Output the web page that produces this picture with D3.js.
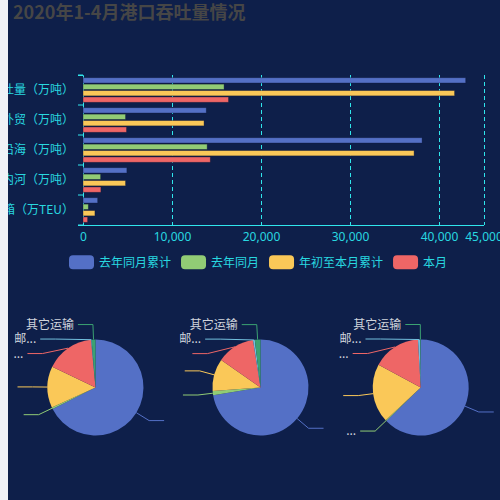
<!DOCTYPE html>
<html>
<head>
<meta charset="utf-8">
<script src="https://cdn.jsdelivr.net/npm/d3@7/dist/d3.min.js"></script>
<style>
  html, body { margin: 0; padding: 0; background: #f0f2f7; width: 500px; height: 500px; overflow: hidden; }
  svg { position: absolute; left: 8px; top: 0; background: #0e1f4a; overflow: hidden; }
  text { font-family: "Microsoft YaHei", "Noto Sans CJK SC", "Noto Sans", sans-serif; }
</style>
</head>
<body>
<script>
// ---------------- data ----------------
const titleText = "2020年1-4月港口吞吐量情况";
const categories = ["货物吞吐量（万吨）", "外贸（万吨）", "沿海（万吨）", "内河（万吨）", "集装箱（万TEU）"];
const seriesNames = ["去年同月累计", "去年同月", "年初至本月累计", "本月"];
const cumLastYear   = [43000, 13850, 38100, 4930, 1650];
const monthLastYear = [15850, 4780, 13950, 1980, 600];
const cumThisYear   = [41750, 13600, 37200, 4780, 1340];
const monthThisYear = [16350, 4890, 14300, 2010, 520];
const xTicks = [0, 10000, 20000, 30000, 40000, 45000];

const pieCategories = ["水路", "铁路", "公路", "管道", "邮政", "其它运输"];
const pie1Values = [67.6, 0.6, 13.9, 16.4, 0.2, 1.3];
const pie2Values = [72.4, 1.4, 10.9, 12.8, 0.6, 1.9];
const pie3Values = [62.7, 0.3, 19.9, 16.2, 0.7, 0.2];
const pie1Labels = ["", "", "", "...", "邮...", "其它运输"];
const pie2Labels = ["", "", "", "", "邮...", "其它运输"];
const pie3Labels = ["", "...", "", "...", "邮...", "其它运输"];

// ---------------- style ----------------
const barColors = ["#5470c6", "#91cc75", "#fac858", "#ee6666"];
const pieColors = ["#5470c6", "#91cc75", "#fac858", "#ee6666", "#73c0de", "#3ba272"];
const cyan = "#28d8e0";
const lineCyan = "#30e6ec";

const svg = d3.select("body").append("svg").attr("width", 492).attr("height", 500);
const root = svg.append("g").attr("transform", "translate(-8,0)");

// title
root.append("text").attr("x", 13).attr("y", 19)
  .attr("font-size", 18).attr("font-weight", "bold").attr("fill", "#464646")
  .text(titleText);

// ---------------- bar chart ----------------
const x = d3.scaleLinear().domain([0, 45000]).range([83, 483.5]);
const y = d3.scaleBand().domain(categories).range([75, 225]).padding(0);
const bw = y.bandwidth();
const ySub = d3.scaleBand().domain(seriesNames).range([bw * 0.09, bw * 0.91]).paddingInner(0.17);
const crisp = v => Math.round(v) + 0.5;

// grid lines
root.append("g").selectAll("line").data(xTicks.filter(d => d > 0)).join("line")
  .attr("x1", d => crisp(x(d))).attr("x2", d => crisp(x(d)))
  .attr("y1", 75).attr("y2", 225)
  .attr("stroke", lineCyan).attr("stroke-width", 1).attr("stroke-dasharray", "4,3");

// y axis
const yAxis = d3.axisLeft(y).tickSize(5).tickPadding(4);
const gy = root.append("g").attr("transform", "translate(83,0)").call(yAxis);
gy.select(".domain").attr("stroke", lineCyan);
gy.selectAll(".tick line").attr("stroke", lineCyan)
  .attr("transform", function(d){ return `translate(0,${-bw/2})`; });
gy.selectAll(".tick text").attr("fill", cyan).attr("font-size", 12)
  .attr("x", -9).attr("dy", "0.35em")
  .style("font-family", '"Microsoft YaHei", "Noto Sans CJK SC", sans-serif');
gy.append("line").attr("x1", -5).attr("x2", 0).attr("y1", 225).attr("y2", 225).attr("stroke", lineCyan);

// x axis
const xAxis = d3.axisBottom(x).tickValues(xTicks).tickSize(0).tickPadding(7).tickFormat(d3.format(","));
const gx = root.append("g").attr("transform", "translate(0,225)").call(xAxis);
gx.select(".domain").attr("stroke", lineCyan).attr("d", `M83,0.5H484`);
gx.selectAll(".tick text").attr("fill", cyan).attr("font-size", 12)
  .style("font-family", '"Microsoft YaHei", "Noto Sans", sans-serif');

// bars
const seriesData = [cumLastYear, monthLastYear, cumThisYear, monthThisYear];
seriesData.forEach((vals, si) => {
  root.append("g").selectAll("rect").data(vals).join("rect")
    .attr("x", x(0))
    .attr("y", (d, i) => y(categories[i]) + ySub(seriesNames[si]))
    .attr("width", d => x(d) - x(0))
    .attr("height", ySub.bandwidth())
    .attr("fill", barColors[si])
    .attr("stroke", "rgba(10,20,50,0.45)").attr("stroke-width", 0.8);
});

// legend
const lg = root.append("g");
let lx = 69;
seriesNames.forEach((name, i) => {
  lg.append("rect").attr("x", lx).attr("y", 255.3).attr("width", 25).attr("height", 14)
    .attr("rx", 4).attr("fill", barColors[i]);
  const t = lg.append("text").attr("x", lx + 30).attr("y", 262.3).attr("dy", "0.35em")
    .attr("font-size", 12).attr("fill", cyan).text(name);
  lx += 30 + t.node().getComputedTextLength() + 10;
});

// ---------------- pies ----------------
const pieCenters = [[95.5, 387.5], [260.5, 387.5], [420.7, 387.5]];
const pieR = 48;
const len1 = 15, len2 = 15, lineGap = 14.5;
const pieSets = [[pie1Values, pie1Labels], [pie2Values, pie2Labels], [pie3Values, pie3Labels]];
const pieGen = d3.pie().sort(null).value(d => d);
const arcGen = d3.arc().innerRadius(0).outerRadius(pieR);

pieSets.forEach(([vals, labels], pi) => {
  const [cx, cy] = pieCenters[pi];
  const g = root.append("g").attr("transform", `translate(${cx},${cy})`);
  const arcs = pieGen(vals);
  g.selectAll("path").data(arcs).join("path")
    .attr("d", arcGen).attr("fill", (d, i) => pieColors[i]);

  const R = pieR + len1;
  const items = arcs.map((a, i) => {
    const m = (a.startAngle + a.endAngle) / 2;
    const s = Math.sin(m), c = -Math.cos(m);
    return { i, m, right: s >= 0, p1: [pieR * s, pieR * c], x2: R * s, y2: R * c };
  });
  [true, false].forEach(side => {
    const list = items.filter(d => d.right === side)
      .sort((a, b) => side ? a.m - b.m : b.m - a.m);
    list.forEach((d, k) => {
      if (k > 0 && d.y2 < list[k - 1].y2 + lineGap) {
        d.y2 = list[k - 1].y2 + lineGap;
        if (Math.abs(d.y2) < R) {
          const dx = Math.sqrt(R * R - d.y2 * d.y2);
          d.x2 = side ? dx : -dx;
        }
      }
    });
  });
  items.forEach(d => {
    const x3 = d.x2 + (d.right ? len2 : -len2);
    g.append("path")
      .attr("d", `M${d.p1[0]},${d.p1[1]}L${d.x2},${d.y2}L${x3},${d.y2}`)
      .attr("fill", "none").attr("stroke", pieColors[d.i]).attr("stroke-width", 1);
    if (labels[d.i]) {
      g.append("text").attr("x", x3 + (d.right ? 4 : -4)).attr("y", d.y2).attr("dy", "0.35em")
        .attr("text-anchor", d.right ? "start" : "end")
        .attr("font-size", 12).attr("fill", "#d0d4dc").text(labels[d.i]);
    }
  });
});
</script>
</body>
</html>
